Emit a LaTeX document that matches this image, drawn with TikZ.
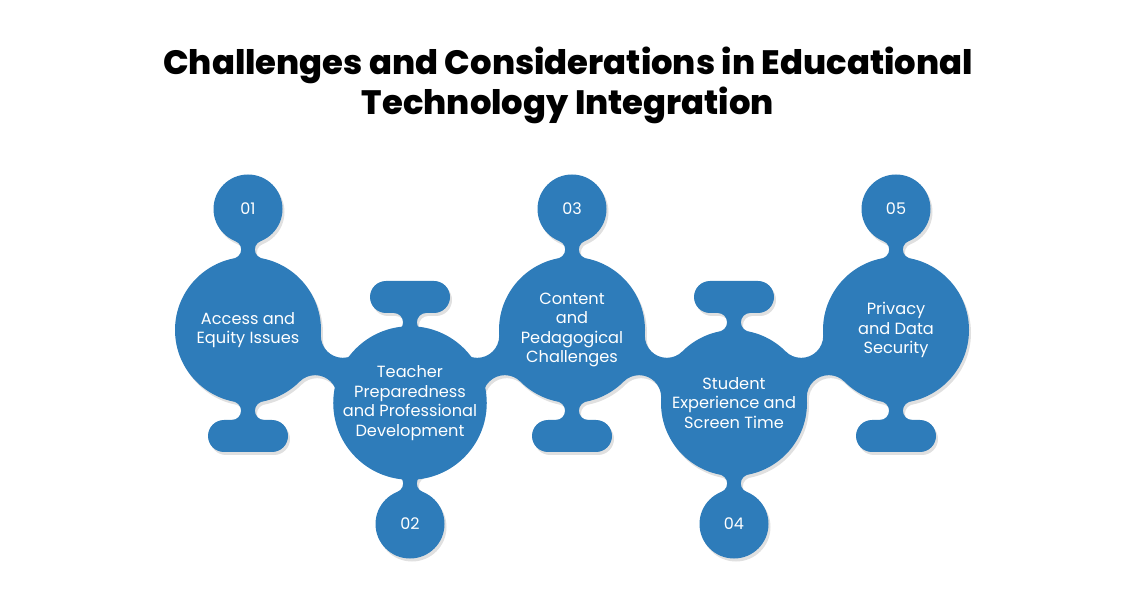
\documentclass[tikz,border=0pt]{standalone}
\usepackage{fontspec}
\setmainfont{Poppins}
\IfFontExistsTF{Poppins ExtraBold}
  {\newfontfamily\titlefont{Poppins ExtraBold}}
  {\newfontfamily\titlefont[FakeBold=1.2]{Poppins Bold}}
\usetikzlibrary{calc,intersections,positioning}
\definecolor{edublue}{RGB}{46,124,186}
\pgfdeclarelayer{shade}
\pgfdeclarelayer{necks}
\pgfsetlayers{shade,necks,main}

% joins between the shapes, #1 = fill options
\newcommand\necks[1]{%
  \foreach \c in {1,...,5}{
    % number circle to big circle
    \path[name path=outer] (c\c.center) circle[radius=82pt];
    \path[name path=inner] (n\c.center) circle[radius=43.5pt];
    \path[name intersections={of=outer and inner, name=k}];
    \begin{scope}[even odd rule]
      \clip (0,0) rectangle (1125,593) (k-1) circle[radius=9pt] (k-2) circle[radius=9pt];
      \fill[#1] ($(n\c.center)!34.5/43.5!(k-1)$) -- ($(c\c.center)!73/82!(k-1)$)
        -- ($(c\c.center)!73/82!(k-2)$) -- ($(n\c.center)!34.5/43.5!(k-2)$) -- cycle;
    \end{scope}
    % pill to big circle
    \coordinate (e) at ($(p\c.center)!16pt!(c\c.center)$);
    \coordinate (l) at ($(p\c.center)!25.3pt!(c\c.center)$);
    \path[name path=outer] (c\c.center) circle[radius=82.3pt];
    \path[name path=flat] ($(l)+(-60,0)$) -- ($(l)+(60,0)$);
    \path[name intersections={of=outer and flat, name=q}];
    \begin{scope}[even odd rule]
      \clip (0,0) rectangle (1125,593) (q-1) circle[radius=9.3pt] (q-2) circle[radius=9.3pt];
      \fill[#1] (q-1 |- e) -- ($(c\c.center)!73/82.3!(q-1)$)
        -- ($(c\c.center)!73/82.3!(q-2)$) -- (q-2 |- e) -- cycle;
    \end{scope}
  }
  \foreach \c [count=\d from 2] in {1,...,4}{
    % big circle to the next one
    \path[name path=left] (c\c.center) circle[radius=95pt];
    \path[name path=right] (c\d.center) circle[radius=95pt];
    \path[name intersections={of=left and right, name=w}];
    \begin{scope}[even odd rule]
      \clip (0,0) rectangle (1125,593) (w-1) circle[radius=22pt] (w-2) circle[radius=22pt];
      \fill[#1] ($(c\c.center)!73/95!(w-1)$) -- ($(c\d.center)!73/95!(w-1)$)
        -- ($(c\d.center)!73/95!(w-2)$) -- ($(c\c.center)!73/95!(w-2)$) -- cycle;
    \end{scope}
  }
}

\begin{document}
\begin{tikzpicture}[x=1pt, y=-1pt,
  title/.style={align=center, font=\titlefont\fontsize{33.8}{40}\selectfont},
  big/.style={circle, fill=edublue, minimum size=146pt, inner sep=0pt, text=white,
    align=center, font=\fontsize{16.2}{19.6}\selectfont},
  num/.style={circle, fill=edublue, minimum size=69pt, inner sep=0pt, text=white,
    font=\fontsize{16}{18}\selectfont},
  pill/.style={rectangle, rounded corners=16pt, fill=edublue, minimum width=80pt,
    minimum height=32pt, inner sep=0pt}]

  \useasboundingbox (0,0) rectangle (1125,593);

  \node[title] (title) at (568,85) {Challenges and Considerations in Educational\\Technology Integration};

  \foreach \lab [count=\c, evaluate=\c as \xx using {86+162*\c},
      evaluate=\c as \yy using {330+73*(1-mod(\c,2))}]
      in {{Access and\\Equity Issues}, {Teacher\\Preparedness\\and Professional\\Development},
          {Content\\and\\Pedagogical\\Challenges}, {Student\\Experience and\\Screen Time},
          {Privacy\\and Data\\Security}} {
    \node[big] (c\c) at (\xx,\yy) {\lab};
  }

  \foreach \num [count=\c, evaluate=\c as \xx using {86+162*\c},
      evaluate=\c as \ny using {209+315*(1-mod(\c,2))},
      evaluate=\c as \py using {436-139*(1-mod(\c,2))}]
      in {01,02,03,04,05} {
    \node[num] (n\c) at (\xx,\ny) {\num};
    \node[pill] (p\c) at (\xx,\py) {};
  }

  \begin{pgfonlayer}{necks}
    \necks{edublue}
  \end{pgfonlayer}

  % soft shadow under everything
  \begin{pgfonlayer}{shade}
    \begin{scope}[transparency group, opacity=.12, transform canvas={shift={(2pt,-3pt)}}]
      \foreach \c in {1,...,5}{
        \fill (c\c.center) circle[radius=73pt] (n\c.center) circle[radius=34.5pt];
        \fill[rounded corners=16pt] ($(p\c.center)+(-40,-16)$) rectangle ($(p\c.center)+(40,16)$);
      }
      \necks{black}
    \end{scope}
  \end{pgfonlayer}

\end{tikzpicture}
\end{document}
